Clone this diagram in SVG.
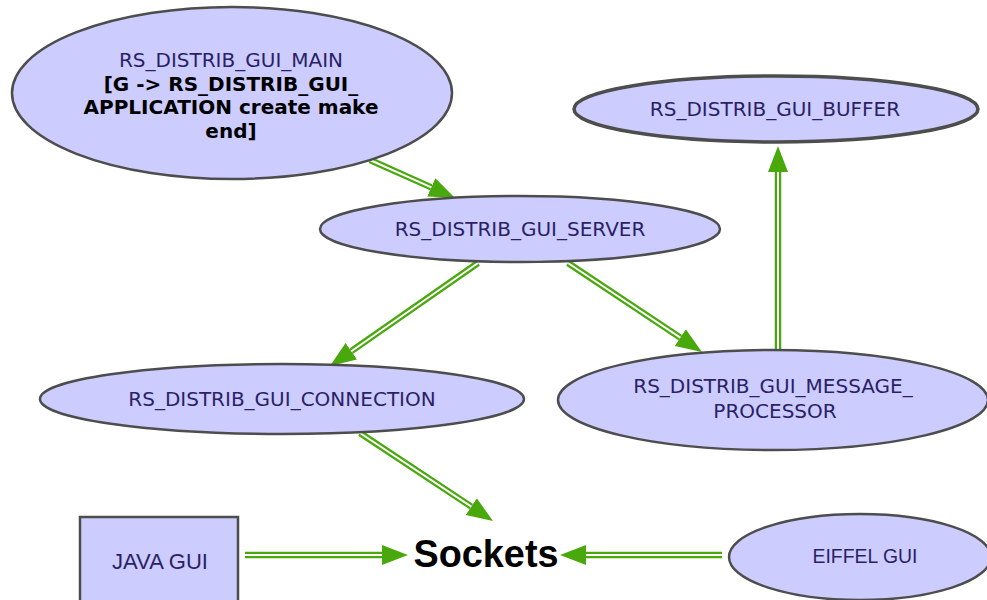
<svg xmlns="http://www.w3.org/2000/svg" width="987" height="600" viewBox="0 0 987 600">
<style>
.node{fill:#ccccff;stroke:#4d4d4d;stroke-width:2.5}
.lbl{font-family:"DejaVu Sans",Verdana,sans-serif;font-size:20px;fill:#2b1f66;text-anchor:middle}
.bold{font-family:"DejaVu Sans",Verdana,sans-serif;font-size:20px;font-weight:bold;fill:#000;text-anchor:middle}
.gui{font-family:"Liberation Sans",Arial,sans-serif;fill:#2b1f66;text-anchor:middle}
.outer{fill:none;stroke:#48a80c;stroke-width:6.5;marker-end:url(#ah)}
.inner{fill:none;stroke:#ffffff;stroke-width:2}
</style>
<defs>
<marker id="ah" markerUnits="userSpaceOnUse" markerWidth="27" markerHeight="22" refX="0" refY="11" orient="auto" viewBox="0 0 27 22">
<path d="M0,1 L26,11 L0,21 z" fill="#48a80c"/>
</marker>
</defs>
<rect width="987" height="600" fill="#ffffff"/>
<g id="connectors">
<path class="outer" d="M370,160 L431.3,187.4"/><path class="inner" d="M370,160 L431.3,187.4"/>
<path class="outer" d="M478,263 L351.3,351.2"/><path class="inner" d="M478,263 L351.3,351.2"/>
<path class="outer" d="M568,263 L680.3,337.6"/><path class="inner" d="M568,263 L680.3,337.6"/>
<path class="outer" d="M778,349 L778,172"/><path class="inner" d="M778,349 L778,172"/>
<path class="outer" d="M360,433 L471.3,506.6"/><path class="inner" d="M360,433 L471.3,506.6"/>
<path class="outer" d="M245,555 L382,555"/><path class="inner" d="M245,555 L382,555"/>
<path class="outer" d="M722,555 L586,555"/><path class="inner" d="M722,555 L586,555"/>
</g>
<g id="main">
<ellipse class="node" cx="232" cy="93" rx="220" ry="86"/>
<text class="lbl" x="231" y="67">RS_DISTRIB_GUI_MAIN</text>
<text class="bold" x="231" y="91">[G -&gt; RS_DISTRIB_GUI_</text>
<text class="bold" x="231" y="114">APPLICATION create make</text>
<text class="bold" x="231" y="138">end]</text>
</g>
<g id="buffer">
<ellipse class="node" cx="776" cy="109" rx="202" ry="33" style="stroke-width:3.5"/>
<text class="lbl" x="775" y="116">RS_DISTRIB_GUI_BUFFER</text>
</g>
<g id="server">
<ellipse class="node" cx="520" cy="229" rx="200" ry="33"/>
<text class="lbl" x="520" y="236">RS_DISTRIB_GUI_SERVER</text>
</g>
<g id="connection">
<ellipse class="node" cx="282" cy="399" rx="242" ry="35"/>
<text class="lbl" x="282" y="406">RS_DISTRIB_GUI_CONNECTION</text>
</g>
<g id="message_processor">
<ellipse class="node" cx="773" cy="400" rx="215" ry="50"/>
<text class="lbl" x="773" y="393">RS_DISTRIB_GUI_MESSAGE_</text>
<text class="lbl" x="775" y="418">PROCESSOR</text>
</g>
<g id="java_gui">
<rect class="node" x="80" y="517" width="158" height="100"/>
<text class="gui" x="160" y="569" font-size="22" textLength="96" lengthAdjust="spacingAndGlyphs">JAVA GUI</text>
</g>
<g id="sockets">
<text x="486" y="567" textLength="145" lengthAdjust="spacingAndGlyphs" style="font-family:'Liberation Sans',Arial,sans-serif;font-size:39px;font-weight:bold;fill:#000;text-anchor:middle">Sockets</text>
</g>
<g id="eiffel_gui">
<ellipse class="node" cx="860" cy="557" rx="131" ry="43"/>
<text class="gui" x="865" y="563" font-size="20" textLength="105" lengthAdjust="spacingAndGlyphs">EIFFEL GUI</text>
</g>
</svg>
